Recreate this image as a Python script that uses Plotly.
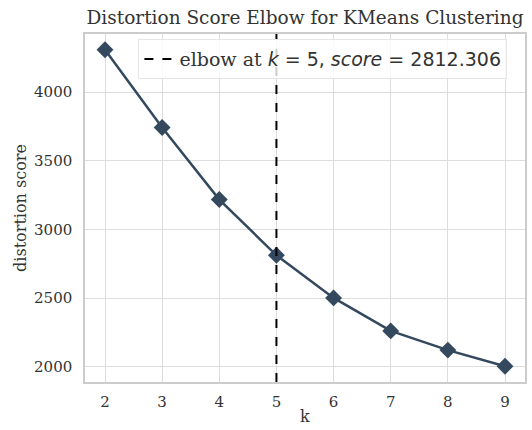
import plotly.graph_objects as go

# Number of clusters tried and the resulting distortion scores
k_values = [2, 3, 4, 5, 6, 7, 8, 9]
distortion = [4308, 3742, 3218, 2812.306, 2502, 2262, 2122, 2005]

elbow_k = 5
elbow_score = 2812.306

x_ticks = [2, 3, 4, 5, 6, 7, 8, 9]
y_ticks = [2000, 2500, 3000, 3500, 4000]

LINE_COLOR = "#34495e"
SERIF = "DejaVu Serif"
TEXT_COLOR = "#333333"


def padded(vals, frac=0.05):
    lo, hi = min(vals), max(vals)
    pad = (hi - lo) * frac
    return [lo - pad, hi + pad]


fig = go.Figure()

fig.add_trace(go.Scatter(
    x=k_values,
    y=distortion,
    mode="lines+markers",
    line=dict(color=LINE_COLOR, width=2.5),
    marker=dict(symbol="diamond", size=13, color=LINE_COLOR),
    showlegend=False,
    hoverinfo="x+y",
))

# Elbow marker: vertical dashed line spanning the plot height
legend_label = (
    f"elbow at <span style=\"font-family:'DejaVu Sans'\"><i>k</i> = {elbow_k}, "
    f"<i>score</i> = {elbow_score:.3f}</span>"
)
fig.add_shape(
    type="line",
    x0=elbow_k, x1=elbow_k, xref="x",
    y0=0, y1=1, yref="paper",
    line=dict(color="black", width=2, dash="dash"),
    showlegend=True,
    name=legend_label,
)

# Axis labels
fig.add_annotation(
    text="distortion score",
    textangle=-90,
    xref="paper", yref="paper",
    x=-0.148, y=0.5,
    xanchor="center", yanchor="middle",
    showarrow=False,
    font=dict(family=SERIF, size=16, color=TEXT_COLOR),
)
fig.add_annotation(
    text="k",
    xref="paper", yref="paper",
    x=0.5, y=-0.1,
    xanchor="center", yanchor="middle",
    showarrow=False,
    font=dict(family=SERIF, size=16, color=TEXT_COLOR),
)

grid = "#dddddd"
fig.update_xaxes(
    range=padded(k_values),
    tickvals=x_ticks,
    showgrid=True, gridcolor=grid, gridwidth=1,
    zeroline=False,
    showline=True, linecolor="#cccccc", linewidth=1.5, mirror=True,
    tickfont=dict(family=SERIF, size=15, color=TEXT_COLOR),
    ticks="", ticklabelstandoff=5,
    automargin=False,
)
fig.update_yaxes(
    range=padded(distortion),
    tickvals=y_ticks,
    showgrid=True, gridcolor=grid, gridwidth=1,
    zeroline=False,
    showline=True, linecolor="#cccccc", linewidth=1.5, mirror=True,
    tickfont=dict(family=SERIF, size=15, color=TEXT_COLOR),
    ticks="", ticklabelstandoff=8,
    automargin=False,
)

fig.update_layout(
    width=532, height=430,
    margin=dict(l=85, r=7, t=34, b=48),
    paper_bgcolor="white",
    plot_bgcolor="white",
    title=dict(
        text="Distortion Score Elbow for KMeans Clustering",
        x=0.5, xref="paper", xanchor="center",
        y=1 - 18 / 430, yanchor="middle",
        font=dict(family=SERIF, size=18.5, color=TEXT_COLOR),
    ),
    legend=dict(
        x=0.96, y=0.985, xanchor="right", yanchor="top",
        bgcolor="rgba(255,255,255,0.8)",
        bordercolor="#e6e6e6", borderwidth=1,
        font=dict(family=SERIF, size=19, color=TEXT_COLOR),
    ),
)

fig.write_html("out.html")
